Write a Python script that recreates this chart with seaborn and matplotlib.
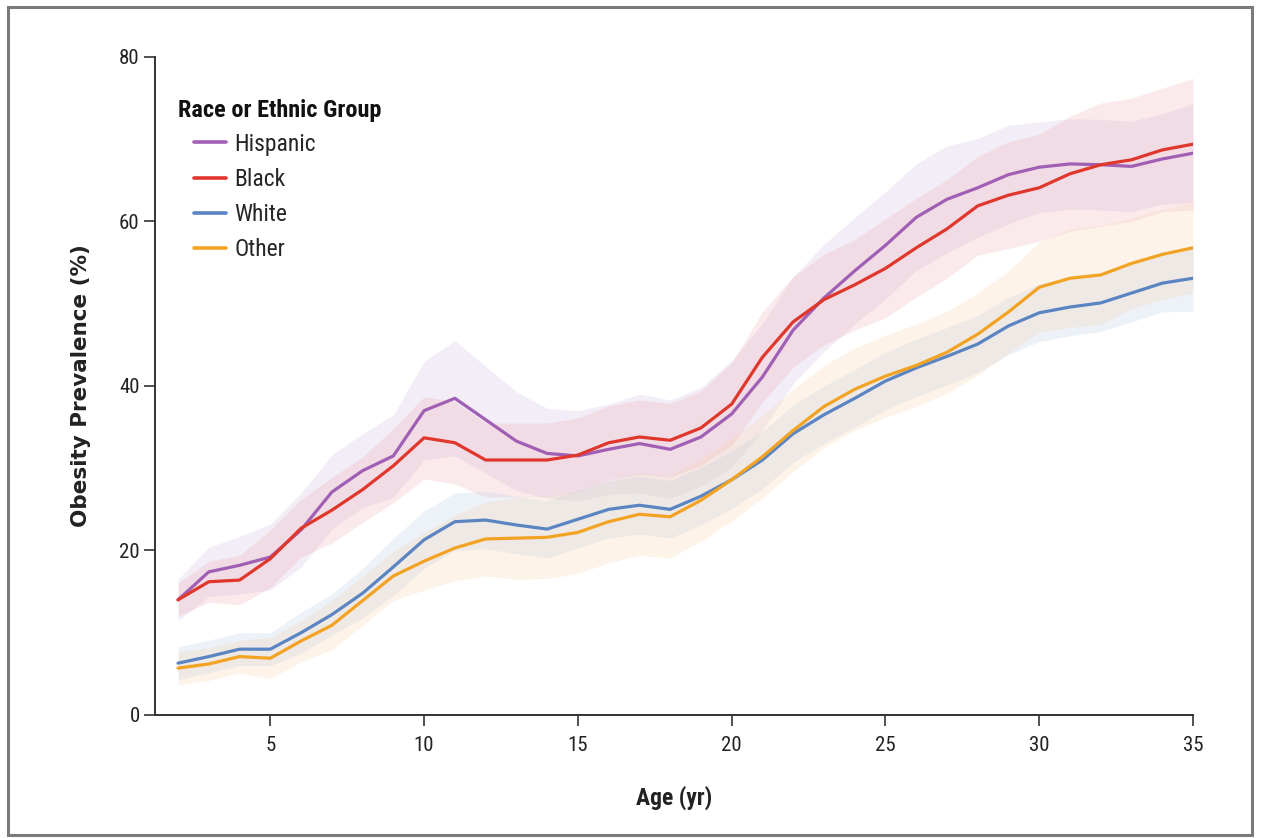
import numpy as np
import pandas as pd
import seaborn as sns
import matplotlib.pyplot as plt
from matplotlib.patches import Rectangle

# ages and prevalence values
ages = list(range(2, 36))

hispanic = [14.0, 17.4, 18.2, 19.2, 22.5, 27.1, 29.7, 31.5, 37.0, 38.5, 35.9, 33.3,
            31.8, 31.5, 32.3, 33.0, 32.3, 33.8, 36.6, 41.1, 46.8, 50.7, 54.0, 57.1,
            60.5, 62.7, 64.1, 65.7, 66.6, 67.0, 66.9, 66.7, 67.6, 68.3]
black = [14.0, 16.2, 16.4, 19.0, 22.7, 24.9, 27.4, 30.3, 33.7, 33.1, 31.0, 31.0,
         31.0, 31.6, 33.1, 33.8, 33.4, 34.9, 37.8, 43.5, 47.8, 50.5, 52.3, 54.3,
         56.8, 59.1, 61.9, 63.2, 64.1, 65.8, 66.9, 67.5, 68.7, 69.4]
white = [6.3, 7.1, 8.0, 8.0, 10.0, 12.2, 14.8, 18.0, 21.3, 23.5, 23.7, 23.1,
         22.6, 23.8, 25.0, 25.5, 25.0, 26.6, 28.6, 31.0, 34.2, 36.5, 38.5, 40.6,
         42.2, 43.6, 45.1, 47.3, 48.9, 49.6, 50.1, 51.3, 52.5, 53.1]
other = [5.7, 6.2, 7.1, 6.9, 9.0, 10.9, 13.9, 16.9, 18.7, 20.3, 21.4, 21.5,
         21.6, 22.2, 23.5, 24.4, 24.1, 26.1, 28.6, 31.4, 34.6, 37.5, 39.6, 41.2,
         42.5, 44.1, 46.3, 49.0, 52.0, 53.1, 53.5, 54.9, 56.0, 56.8]

# approximate half-widths of the shaded uncertainty bands
hispanic_ci = [2.5, 3.0, 3.5, 4.0, 4.5, 4.5, 4.5, 5.0, 6.0, 7.0, 6.5, 6.0,
               5.5, 5.5, 5.5, 6.0, 6.0, 6.0, 6.5, 6.5, 6.5, 6.5, 6.5, 6.5,
               6.5, 6.5, 6.0, 6.0, 5.5, 5.5, 5.5, 5.5, 5.5, 6.0]
black_ci = [2.0, 2.5, 3.0, 3.5, 3.5, 4.0, 4.0, 4.5, 5.0, 5.0, 4.5, 4.5,
            4.5, 4.5, 4.5, 4.5, 4.5, 4.5, 5.0, 5.5, 5.5, 5.5, 5.5, 6.0,
            6.0, 6.0, 6.0, 6.5, 6.5, 7.0, 7.5, 7.5, 7.5, 8.0]
white_ci = [2.0, 2.0, 2.0, 2.0, 2.5, 2.5, 3.0, 3.5, 3.5, 3.5, 3.5, 3.5,
            3.5, 3.5, 3.5, 3.5, 3.5, 3.5, 3.5, 3.5, 3.5, 3.5, 3.5, 3.5,
            3.5, 3.5, 3.5, 3.5, 3.5, 3.5, 3.5, 3.5, 3.5, 4.0]
other_ci = [2.0, 2.0, 2.0, 2.5, 2.5, 3.0, 3.0, 3.0, 3.5, 4.0, 4.5, 5.0,
            5.0, 5.0, 5.0, 5.0, 5.0, 5.0, 5.0, 5.0, 5.0, 5.0, 5.0, 5.0,
            5.0, 5.0, 5.0, 5.0, 5.5, 6.0, 6.0, 5.5, 5.5, 5.5]

groups = ["Hispanic", "Black", "White", "Other"]
colors = {"Hispanic": "#a05fb4", "Black": "#e0372c", "White": "#5a84c2", "Other": "#f2a324"}
band_colors = {"Hispanic": "#c9b6e0", "Black": "#eea8ad", "White": "#b7cbe8", "Other": "#f9d0a6"}

series = {"Hispanic": (hispanic, hispanic_ci), "Black": (black, black_ci),
          "White": (white, white_ci), "Other": (other, other_ci)}

df = pd.concat([pd.DataFrame({"age": ages, "prev": v, "group": g})
                for g, (v, _) in series.items()], ignore_index=True)

sns.set_theme(style="white")
plt.rcParams['font.family'] = ['Roboto Condensed', 'Lato', 'DejaVu Sans']

fig = plt.figure(figsize=(12.61, 8.38), dpi=100)
ax = fig.add_axes([0.1229, 0.1468, 0.8232, 0.7852])

# shaded bands first
for g in groups:
    v, ci = series[g]
    v = np.array(v)
    ci = np.array(ci)
    ax.fill_between(ages, v - ci, v + ci, color=band_colors[g], alpha=0.24, lw=0)

sns.lineplot(data=df, x="age", y="prev", hue="group", hue_order=groups,
             palette=colors, linewidth=2.3, ax=ax, legend=False)

ax.set_xlim(1.25, 35)
ax.set_ylim(0, 80)
ax.set_xticks([5, 10, 15, 20, 25, 30, 35])
ax.set_yticks([0, 20, 40, 60, 80])
ax.tick_params(axis="both", which="both", direction="out", length=8, width=1.2,
               color="#333333", labelsize=15, labelcolor="#222222", left=True, bottom=True)
ax.tick_params(axis="x", pad=7)
ax.tick_params(axis="y", pad=3)

for side in ["top", "right"]:
    ax.spines[side].set_visible(False)
for side in ["left", "bottom"]:
    ax.spines[side].set_color("#333333")
    ax.spines[side].set_linewidth(1.4)

ax.set_xlabel("Age (yr)", fontsize=17, fontweight="bold", color="#222222", labelpad=22)
ax.set_ylabel("Obesity Prevalence (%)", fontsize=15.5, fontweight="bold", color="#222222",
              labelpad=20, family=["DejaVu Sans"])

# legend
handles = [plt.Line2D([], [], color=colors[g], lw=2.6) for g in groups]
ax.legend(handles, groups, loc="upper left", bbox_to_anchor=(0.038, 0.885),
          frameon=False, fontsize=17, handlelength=1.35, handletextpad=0.35,
          labelspacing=0.52, borderaxespad=0, borderpad=0)
ax.text(0.022, 0.919, "Race or Ethnic Group", transform=ax.transAxes, fontsize=17.5,
        fontweight="bold", color="#111111", va="center", ha="left")

# grey frame around the whole figure
fig.patches.append(Rectangle((8 / 1261, 3 / 838), 1244 / 1261, 828 / 838,
                             transform=fig.transFigure, fill=False,
                             edgecolor="#7a7a7a", linewidth=2.2))

fig.savefig("out.png", dpi=100)
